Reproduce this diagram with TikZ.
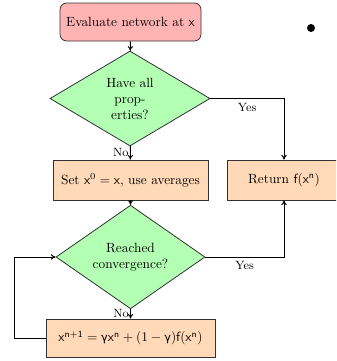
\documentclass[tikz,border=0pt]{standalone}
\usepackage{fontspec}
\usetikzlibrary{shapes.geometric,arrows.meta}
\newfontfamily\sfgreek{DejaVu Sans}[Scale=0.85]
\newcommand{\sgam}{\mbox{\sfgreek γ}}
\definecolor{pinkfill}{RGB}{255,179,179}
\definecolor{greenfill}{RGB}{179,255,179}
\definecolor{peachfill}{RGB}{255,217,184}
\definecolor{edgegray}{RGB}{50,50,50}
\tikzset{
  flowline/.style={line width=0.7pt, draw=black},
  startbox/.style={draw=edgegray, line width=0.6pt, fill=pinkfill, rounded corners=5pt, minimum width=141*0.75pt, minimum height=38*0.75pt, inner sep=0pt},
  procbox/.style={draw=edgegray, line width=0.6pt, fill=peachfill, minimum height=40*0.75pt, inner sep=0pt},
  decision/.style={draw=edgegray, line width=0.6pt, fill=greenfill, diamond, inner sep=0pt, align=center},
  lbl/.style={font=\small, inner sep=1pt}
}
\begin{document}
\begin{tikzpicture}[x=0.75pt, y=-0.75pt, >={To[length=3.5pt,width=4pt]}]
\useasboundingbox (0,0) rectangle (336,361);
\clip (0,0) rectangle (336,361);
\node[startbox] (eval) at (130.5,22) {Evaluate network at $\mathsf{x}$};
\node[decision, minimum width=160*0.75pt, minimum height=95*0.75pt] (props) at (130,98.5) {Have all\\prop-\\erties?};
\node[procbox, minimum width=155*0.75pt] (set) at (130.5,180) {Set $\mathsf{x}^0 = \mathsf{x}$, use averages};
\node[procbox, minimum width=114*0.75pt] (ret) at (284,180) {Return $\mathsf{f}(\mathsf{x}^{\mathsf{n}})$};
\node[decision, minimum width=149*0.75pt, minimum height=88*0.75pt] (conv) at (130.5,257) {Reached\\convergence?};
\node[procbox, minimum width=169*0.75pt, minimum height=38*0.75pt] (upd) at (130.5,338) {$\mathsf{x}^{\mathsf{n+1}} = \sgam\mathsf{x}^{\mathsf{n}} + (1-\sgam)\mathsf{f}(\mathsf{x}^{\mathsf{n}})$};
\coordinate (c1) at (284,98.5);
\coordinate (c2) at (284,257);
\coordinate (c3) at (14,338);
\coordinate (c4) at (14,257);
\draw[flowline,->] (eval) -- (props);
\draw[flowline,->] (props) -- node[lbl, left, pos=0.5] {No} (set);
\draw[flowline,->] (props.east) -- (c1) node[lbl, pos=0.5, below=2pt] {Yes} -- (ret.north);
\draw[flowline,->] (set) -- (conv);
\draw[flowline,->] (conv.east) -- (c2) node[lbl, pos=0.5, below=2pt] {Yes} -- (ret.south);
\draw[flowline,->] (conv) -- node[lbl, left, pos=0.5] {No} (upd);
\draw[flowline,->] (upd.west) -- (c3) -- (c4) -- (conv.west);
\fill (311,28) circle (4);
\end{tikzpicture}
\end{document}
